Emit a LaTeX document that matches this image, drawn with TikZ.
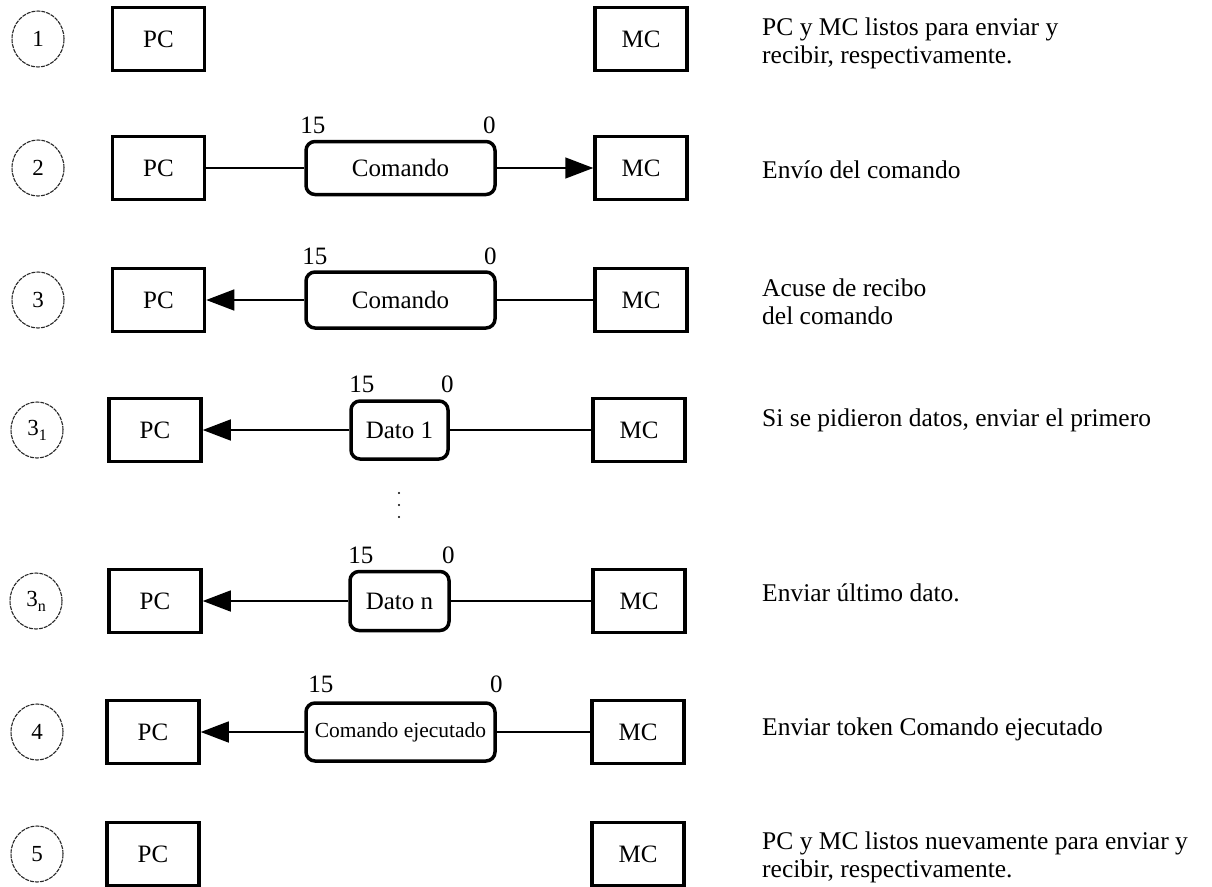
\documentclass[tikz,border=0pt]{standalone}
\usepackage{fontspec}
\setmainfont{Liberation Serif}
\usetikzlibrary{arrows.meta,shapes.geometric}
\newcommand{\subidx}[2]{#1\raisebox{-5pt}{\fontsize{16}{16}\selectfont #2}}
\begin{document}
\begin{tikzpicture}[x=1pt,y=-1pt,
  unit/.style={draw, line width=3.5pt, minimum width=92pt, minimum height=63pt,
    inner sep=0pt, font=\fontsize{25}{30}\selectfont},
  frame/.style={draw, line width=3.5pt, rounded corners=9pt, inner sep=0pt,
    font=\fontsize{25}{30}\selectfont},
  stepmark/.style={draw=black!85, ellipse, line width=1.1pt, dash pattern=on 4pt off 1pt,
    minimum width=52pt, minimum height=56pt, inner sep=0pt, font=\fontsize{23}{27}\selectfont},
  bit/.style={inner sep=0pt, font=\fontsize{25}{30}\selectfont},
  wire/.style={line width=1.5pt},
  sendarrow/.style={wire, -{Triangle[length=28pt,width=21pt]}},
  note/.style={anchor=west, align=left, inner sep=0pt, font=\fontsize{25.5}{28}\selectfont},
  dotmark/.style={circle, fill, inner sep=0pt, minimum size=2.4pt}
]
\useasboundingbox (0,0) rectangle (1212,886);

% Step 1: both ends idle
\node[stepmark] (s1) at (38,39) {1};
\node[unit] (pc1) at (158.5,39) {PC};
\node[unit] (mc1) at (641,39) {MC};
\node[note] (t1) at (762,43) {PC y MC listos para enviar y\\recibir, respectivamente.};

% Step 2: command PC -> MC
\node[stepmark] (s2) at (38,168) {2};
\node[unit] (pc2) at (158.5,168) {PC};
\node[unit] (mc2) at (641,168) {MC};
\node[frame, minimum width=189pt, minimum height=53pt] (f2) at (400.5,168) {Comando};
\node[bit, anchor=south west] (f2h) at ([xshift=-4pt,yshift=6pt]f2.north west) {15};
\node[bit, anchor=south east] (f2l) at ([xshift=-1pt,yshift=6pt]f2.north east) {0};
\draw[wire] (pc2) -- (f2);
\draw[sendarrow] (f2) -- (mc2);
\node[note] (t2) at (762,170) {Envío del comando};

% Step 3: command echoed back
\node[stepmark] (s3) at (38,300) {3};
\node[unit] (pc3) at (158.5,300) {PC};
\node[unit] (mc3) at (641,300) {MC};
\node[frame, minimum width=189pt, minimum height=56pt] (f3) at (400.5,300) {Comando};
\node[bit, anchor=south west] (f3h) at ([xshift=-2pt,yshift=5pt]f3.north west) {15};
\node[bit, anchor=south east] (f3l) at ([xshift=0pt,yshift=5pt]f3.north east) {0};
\draw[sendarrow] (f3) -- (pc3);
\draw[wire] (f3) -- (mc3);
\node[note] (t3) at (762,302) {Acuse de recibo\\del comando};

% Step 3_1: first data word
\node[stepmark] (s31) at (37,430) {\subidx{3}{1}};
\node[unit] (pc31) at (155,430) {PC};
\node[unit] (mc31) at (639,430) {MC};
\node[frame, minimum width=97pt, minimum height=58pt] (f31) at (399.5,430) {Dato 1};
\node[bit, anchor=south west] (f31h) at ([xshift=0pt,yshift=6pt]f31.north west) {15};
\node[bit, anchor=south east] (f31l) at ([xshift=4pt,yshift=6pt]f31.north east) {0};
\draw[sendarrow] (f31) -- (pc31);
\draw[wire] (f31) -- (mc31);
\node[note] (t31) at (762,420) {Si se pidieron datos, enviar el primero};

% continuation dots
\node[dotmark] (d1) at (399,493) {};
\node[dotmark] (d2) at (399,505) {};
\node[dotmark] (d3) at (399,517) {};

% Step 3_n: last data word
\node[stepmark] (s3n) at (36,601) {\subidx{3}{n}};
\node[unit] (pc3n) at (155,601) {PC};
\node[unit] (mc3n) at (639,601) {MC};
\node[frame, minimum width=99pt, minimum height=59pt] (f3n) at (399.5,601) {Dato n};
\node[bit, anchor=south west] (f3nh) at ([xshift=0pt,yshift=6pt]f3n.north west) {15};
\node[bit, anchor=south east] (f3nl) at ([xshift=4pt,yshift=6pt]f3n.north east) {0};
\draw[sendarrow] (f3n) -- (pc3n);
\draw[wire] (f3n) -- (mc3n);
\node[note] (t3n) at (762,593) {Enviar último dato.};

% Step 4: completion token
\node[stepmark] (s4) at (37,732) {4};
\node[unit] (pc4) at (153,732) {PC};
\node[unit] (mc4) at (638,732) {MC};
\node[frame, minimum width=189pt, minimum height=58pt, font=\fontsize{21.5}{26}\selectfont] (f4) at (400.5,732) {Comando ejecutado};
\node[bit, anchor=south west] (f4h) at ([xshift=4pt,yshift=8pt]f4.north west) {15};
\node[bit, anchor=south east] (f4l) at ([xshift=6pt,yshift=8pt]f4.north east) {0};
\draw[sendarrow] (f4) -- (pc4);
\draw[wire] (f4) -- (mc4);
\node[note] (t4) at (762,729) {Enviar token Comando ejecutado};

% Step 5: idle again
\node[stepmark] (s5) at (37,854) {5};
\node[unit] (pc5) at (153,854) {PC};
\node[unit] (mc5) at (638,854) {MC};
\node[note] (t5) at (762,857) {PC y MC listos nuevamente para enviar y\\recibir, respectivamente.};
\end{tikzpicture}
\end{document}
